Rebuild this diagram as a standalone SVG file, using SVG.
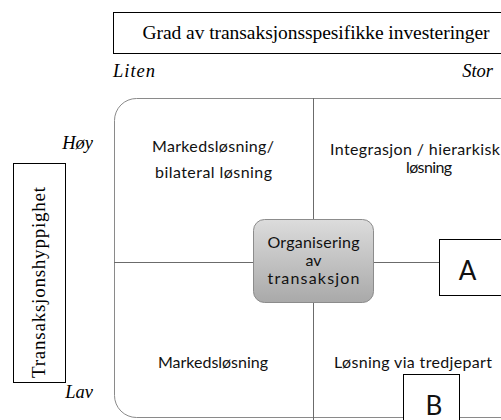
<svg xmlns="http://www.w3.org/2000/svg" width="501" height="420" viewBox="0 0 501 420">
<defs>
<linearGradient id="g" x1="0" y1="0" x2="0" y2="1">
<stop offset="0" stop-color="#dcdcdc"/>
<stop offset="1" stop-color="#a9a9a9"/>
</linearGradient>
<style>
.serif{font-family:"Liberation Serif","Times New Roman",serif;fill:#000}
.it{font-style:italic;font-size:18.5px}
.sans{font-family:Lato,"Open Sans","Noto Sans",sans-serif;fill:#111;text-anchor:middle}
.q{font-size:16px}
.c{font-size:16px}
.big{font-size:26px}
.ln{stroke:#6b6b6b;stroke-width:1;fill:none}
.box{fill:#fff;stroke:#000;stroke-width:1}
</style>
</defs>
<rect width="501" height="420" fill="#fff"/>
<g id="frame">
<rect x="114.5" y="98.5" width="410" height="319" rx="22" ry="22" fill="#fff" stroke="#8a8a8a"/>
</g>
<g id="connectors">
<line class="ln" x1="313.5" y1="98" x2="313.5" y2="219"/>
<line class="ln" x1="313.5" y1="303" x2="313.5" y2="420"/>
<line class="ln" x1="114" y1="262.5" x2="253" y2="262.5"/>
<line class="ln" x1="374" y1="262.5" x2="439" y2="262.5"/>
</g>
<g id="top-axis">
<rect class="box" x="113.5" y="12.5" width="400" height="41"/>
<text class="serif" x="316" y="38.5" font-size="19.5" text-anchor="middle" textLength="347">Grad av transaksjonsspesifikke investeringer</text>
<text class="serif it" x="113" y="77" textLength="42">Liten</text>
<text class="serif it" x="493" y="77" text-anchor="end">Stor</text>
</g>
<g id="left-axis">
<rect class="box" x="13.5" y="163.5" width="52" height="219"/>
<text class="serif" transform="translate(45,282.5) rotate(-90)" font-size="19" text-anchor="middle" textLength="191">Transaksjonshyppighet</text>
<text class="serif it" x="93" y="149" text-anchor="end">Høy</text>
<text class="serif it" x="93" y="398" text-anchor="end">Lav</text>
</g>
<g id="q1">
<text class="sans q" x="213" y="152" textLength="122">Markedsløsning/</text>
<text class="sans q" x="213.5" y="178" textLength="117">bilateral løsning</text>
</g>
<g id="q2">
<text class="sans q" x="415" y="155" textLength="170">Integrasjon / hierarkisk</text>
<text class="sans q" x="429" y="173" textLength="46">løsning</text>
</g>
<g id="q3">
<text class="sans q" x="213" y="368" textLength="110">Markedsløsning</text>
</g>
<g id="q4">
<text class="sans q" x="413" y="368" textLength="158">Løsning via tredjepart</text>
</g>
<g id="center">
<rect x="253.5" y="219.5" width="120" height="83" rx="11" ry="11" fill="url(#g)" stroke="#8c8c8c"/>
<text class="sans c" x="313.5" y="248" textLength="92">Organisering</text>
<text class="sans c" x="313.5" y="266">av</text>
<text class="sans c" x="313.5" y="284" textLength="92">transaksjon</text>
</g>
<g id="A">
<rect class="box" x="439.5" y="239.5" width="70" height="56"/>
<text class="sans big" x="467.5" y="280" fill="#000">A</text>
</g>
<g id="B">
<rect class="box" x="403.5" y="374.5" width="56" height="60"/>
<text class="sans big" x="434" y="415" fill="#000">B</text>
</g>
</svg>
